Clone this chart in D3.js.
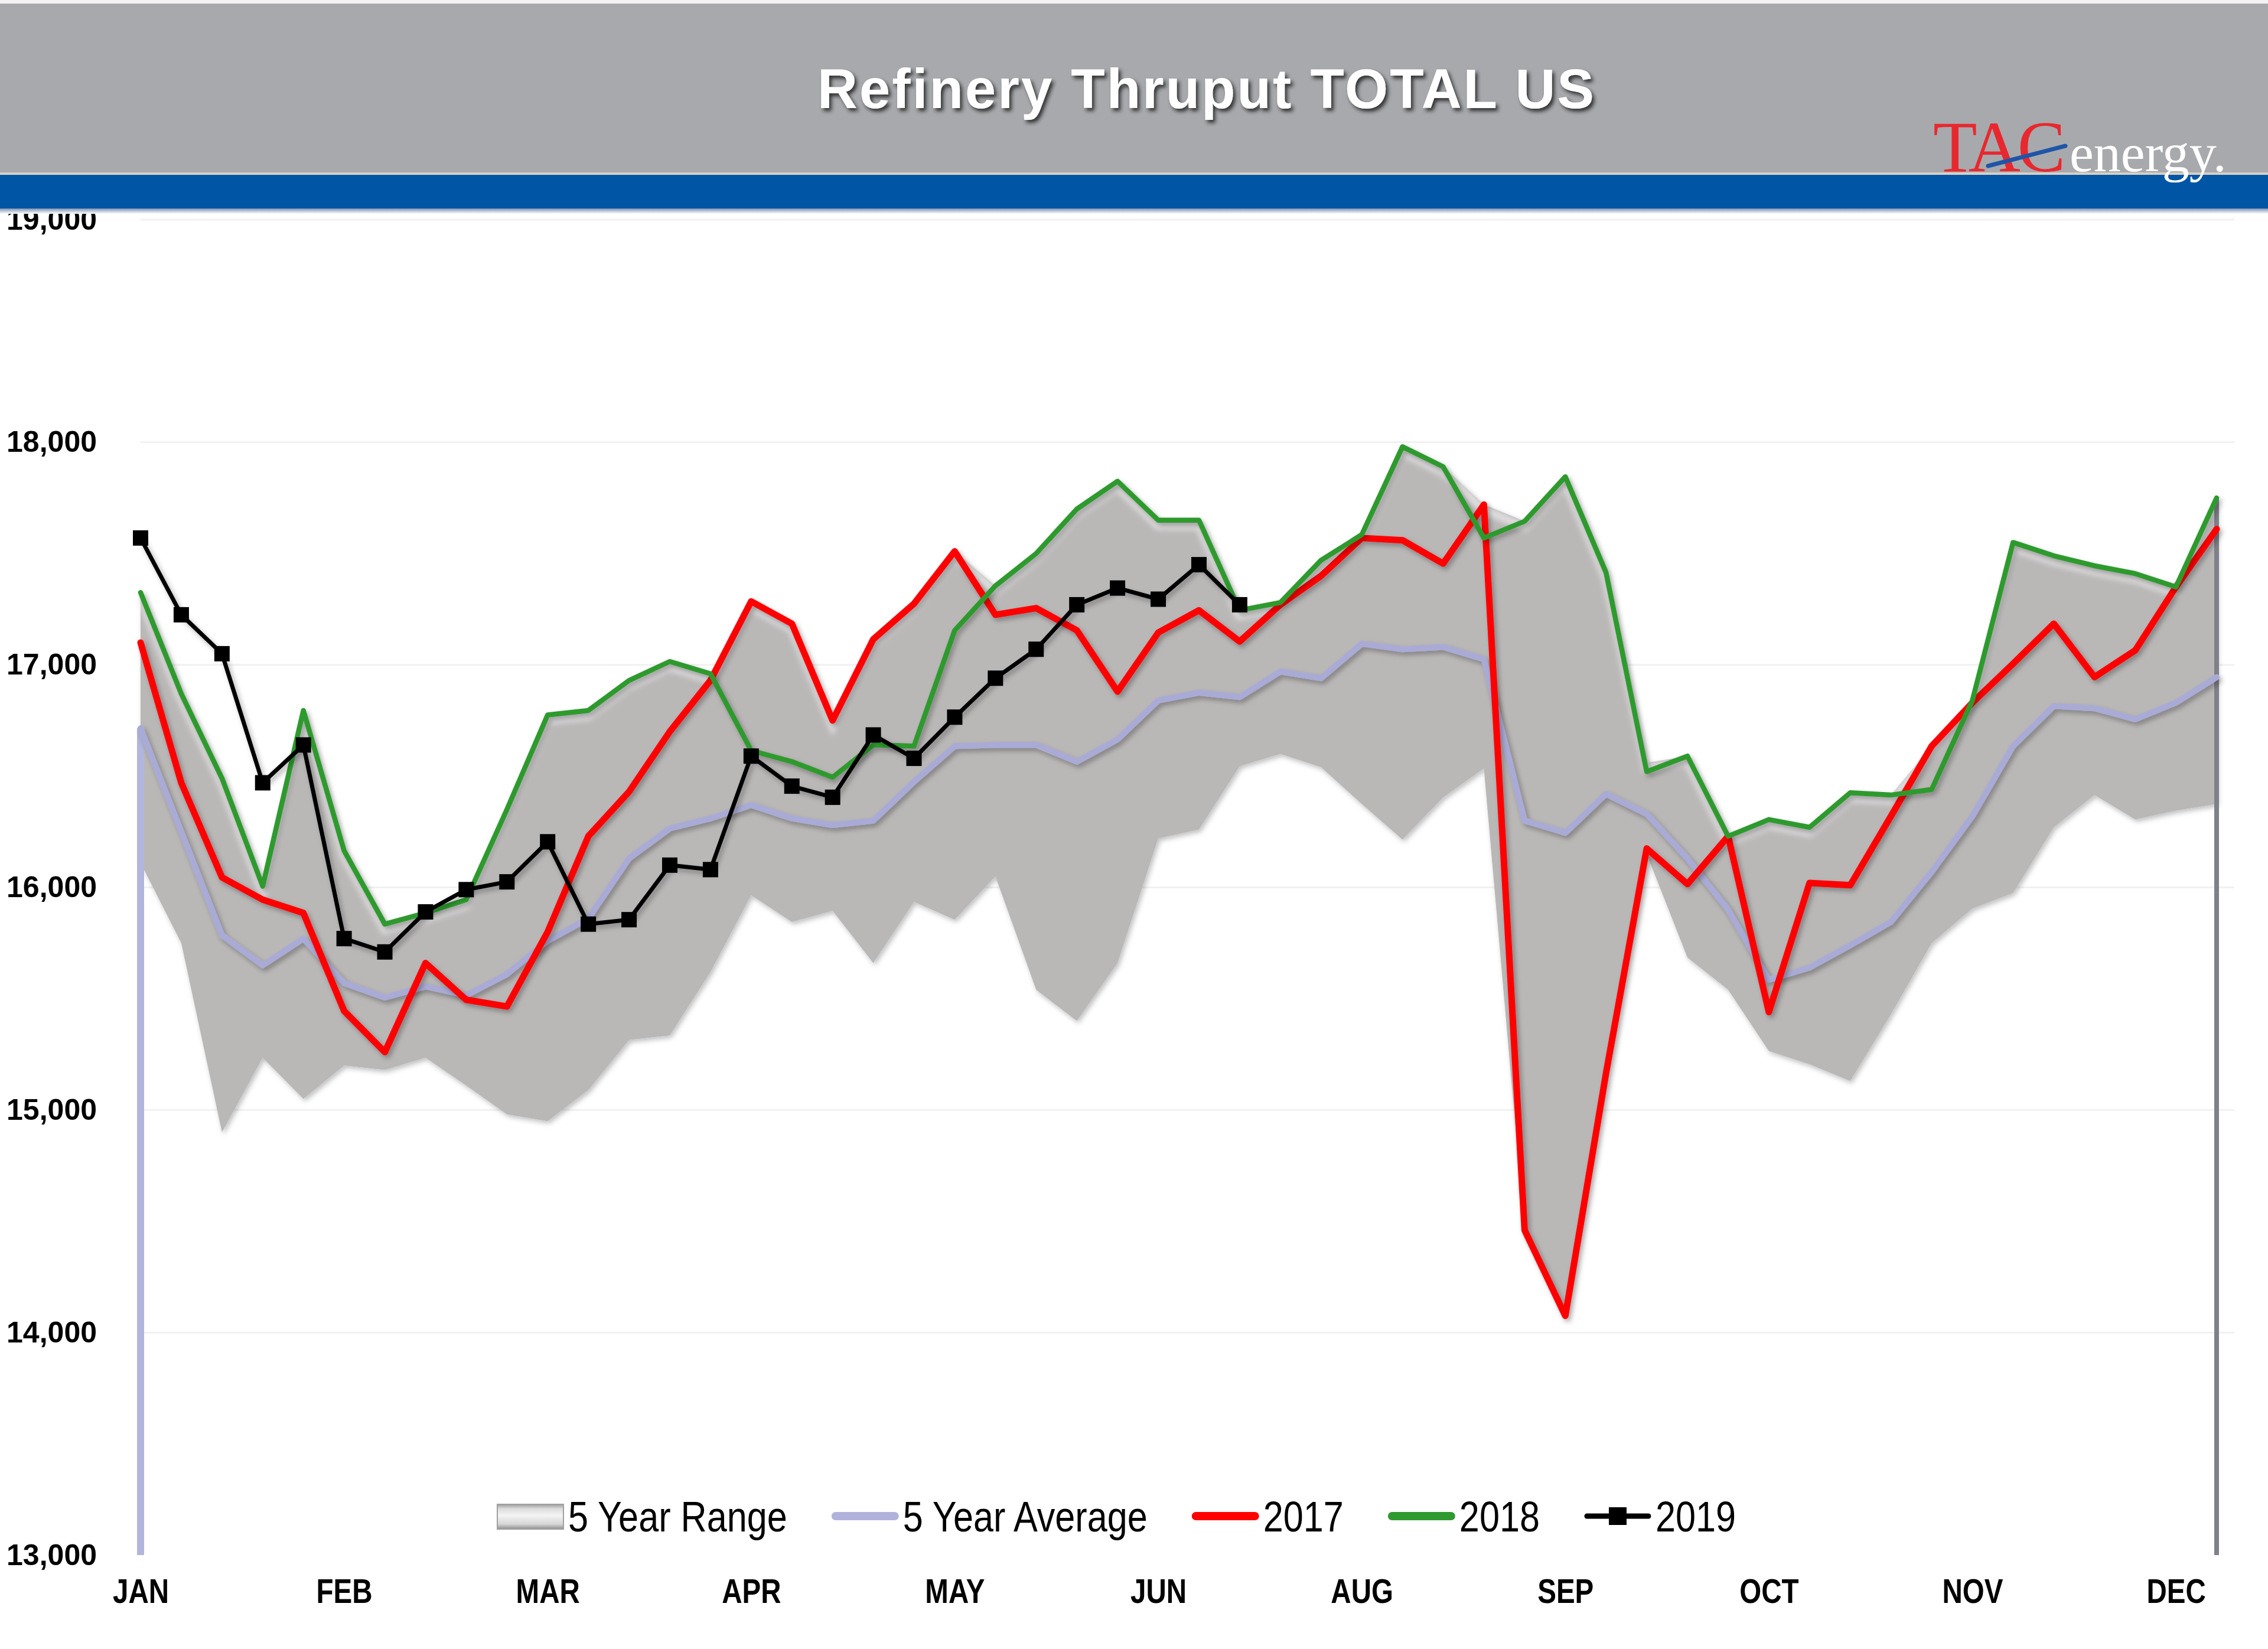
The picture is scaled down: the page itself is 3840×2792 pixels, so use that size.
<!DOCTYPE html>
<html><head><meta charset="utf-8">
<script src="https://cdn.jsdelivr.net/npm/d3@7"></script>
<style>
html,body{margin:0;padding:0;background:#fff;}
svg{display:block;}
</style></head><body>
<svg id="chart" width="3840" height="2792"></svg>
<script>
// ---------- DATA ----------
const weeks = d3.range(1, 53);
const monthLabels = ["JAN","FEB","MAR","APR","MAY","JUN","AUG","SEP","OCT","NOV","DEC"];
const monthLabelWeeks = [1,6,11,16,21,26,31,36,41,46,51];
const yTicks = [13000,14000,15000,16000,17000,18000,19000];
const seriesNames = ["5 Year Range","5 Year Average","2017","2018","2019"];

const range5Min = [16110,15750,14900,15235,15050,15200,15180,15235,15110,14980,14950,15090,15315,15335,15620,15965,15845,15895,15660,15935,15855,16050,15540,15400,15660,16220,16260,16545,16600,16540,16375,16215,16405,16535,14460,14075,15165,16150,15685,15540,15265,15205,15130,15430,15750,15905,15975,16270,16415,16305,16345,16375];
const range5Max = [17325,16870,16490,16005,16795,16165,15835,15885,15945,16350,16775,16795,16930,17015,16960,17285,17185,16750,17115,17275,17510,17355,17500,17700,17825,17650,17650,17245,17280,17470,17585,17980,17890,17720,17645,17845,17415,16560,16590,16230,16305,16270,16425,16415,16635,16840,17550,17490,17445,17410,17350,17750];
const avg5 = [16715,16250,15785,15650,15770,15570,15505,15555,15515,15610,15760,15860,16130,16265,16310,16370,16310,16280,16300,16475,16635,16640,16640,16565,16665,16840,16875,16855,16970,16940,17095,17070,17080,17025,16300,16245,16420,16330,16130,15900,15585,15640,15740,15845,16070,16320,16635,16815,16805,16755,16830,16945];
const y2017 = [17100,16470,16045,15945,15885,15445,15260,15660,15495,15465,15800,16230,16430,16700,16930,17285,17185,16750,17115,17275,17510,17225,17255,17155,16880,17145,17245,17105,17270,17400,17570,17560,17455,17720,14460,14075,15165,16175,16015,16230,15440,16020,16010,16320,16635,16830,17005,17185,16945,17065,17350,17610];
const y2018 = [17325,16870,16490,16005,16795,16165,15835,15885,15945,16350,16775,16795,16930,17015,16960,16615,16565,16495,16640,16635,17155,17355,17500,17700,17825,17650,17650,17245,17280,17470,17585,17980,17890,17570,17645,17845,17415,16520,16590,16230,16305,16270,16425,16415,16440,16840,17550,17490,17445,17410,17350,17750];
const y2019 = [17570,17225,17050,16470,16640,15770,15710,15890,15990,16025,16205,15835,15855,16100,16080,16590,16455,16405,16685,16580,16765,16940,17070,17270,17345,17295,17450,17270];

// ---------- SETUP ----------
const W = 3840, H = 2792;
const NARROW_AXIS = 0.82;
const NARROW_LEG = 0.85;
const svg = d3.select("#chart");
const x = d3.scalePoint().domain(weeks).range([238, 3753]);
const y = d3.scaleLinear().domain([13000, 19000]).range([2633, 372]);

const defs = svg.append("defs");
const f1 = defs.append("filter").attr("id","lineShadow").attr("x","-5%").attr("y","-5%").attr("width","110%").attr("height","110%");
f1.append("feDropShadow").attr("dx",4).attr("dy",5).attr("stdDeviation",4).attr("flood-color","#000").attr("flood-opacity",0.3);
const f2 = defs.append("filter").attr("id","areaShadow").attr("x","-5%").attr("y","-5%").attr("width","110%").attr("height","110%");
f2.append("feDropShadow").attr("dx",3).attr("dy",4).attr("stdDeviation",4).attr("flood-color","#000").attr("flood-opacity",0.25);
const f3 = defs.append("filter").attr("id","titleShadow").attr("x","-5%").attr("y","-20%").attr("width","110%").attr("height","150%");
f3.append("feDropShadow").attr("dx",4).attr("dy",5).attr("stdDeviation",3).attr("flood-color","#222").attr("flood-opacity",0.85);
const f4 = defs.append("filter").attr("id","blur6");
f4.append("feGaussianBlur").attr("stdDeviation",5);
const gHead = defs.append("linearGradient").attr("id","bandShadow").attr("x1",0).attr("x2",0).attr("y1",0).attr("y2",1);
gHead.append("stop").attr("offset","0%").attr("stop-color","#7d94b4");
gHead.append("stop").attr("offset","100%").attr("stop-color","#ffffff");
const gSw = defs.append("linearGradient").attr("id","swatchGrad").attr("x1",0).attr("x2",0).attr("y1",0).attr("y2",1);
[["0%","#9d9d9d"],["18%","#dcdcdc"],["45%","#f4f4f4"],["80%","#d6d6d6"],["100%","#8e8e8e"]].forEach(s=>gSw.append("stop").attr("offset",s[0]).attr("stop-color",s[1]));

// ---------- GRIDLINES ----------
svg.append("g").selectAll("line").data(yTicks.slice(1)).join("line")
  .attr("x1", x(1)).attr("x2", x(52) + 30)
  .attr("y1", d => y(d)).attr("y2", d => y(d))
  .attr("stroke", "#f1f1f1").attr("stroke-width", 3);

// ---------- 5 YEAR RANGE AREA ----------
const rangeData = weeks.map((w, i) => ({w, lo: range5Min[i], hi: range5Max[i]}));
const area = d3.area().x(d => x(d.w)).y0(d => y(d.lo)).y1(d => y(d.hi));
defs.append("clipPath").attr("id","areaClip").append("path").attr("d", area(rangeData));
svg.append("path").attr("d", area(rangeData)).attr("fill", "#bab7b7").attr("filter","url(#areaShadow)");
const topLine = d3.line().x(d => x(d.w)).y(d => y(d.hi));
svg.append("g").attr("clip-path","url(#areaClip)")
  .append("path").attr("d", topLine(rangeData)).attr("transform","translate(0,9)")
  .attr("fill","none").attr("stroke","#ffffff").attr("stroke-opacity",0.55).attr("stroke-width",14)
  .attr("filter","url(#blur6)");

// edge lines
svg.append("line").attr("x1", x(52)).attr("x2", x(52))
  .attr("y1", y(range5Max[51])).attr("y2", y(13000))
  .attr("stroke", "#80808a").attr("stroke-width", 8);
svg.append("line").attr("x1", x(1)).attr("x2", x(1))
  .attr("y1", y(avg5[0])).attr("y2", y(13000))
  .attr("stroke", "#b3b5dc").attr("stroke-width", 12);

// ---------- LINES ----------
const line = d3.line().x((d, i) => x(weeks[i])).y(d => y(d)).curve(d3.curveLinear);
function drawLine(data, color, width) {
  svg.append("path").attr("d", line(data)).attr("fill","none")
    .attr("stroke", color).attr("stroke-width", width)
    .attr("stroke-linejoin","round").attr("stroke-linecap","round")
    .attr("filter","url(#lineShadow)");
}
drawLine(avg5, "#a9abd6", 10);
drawLine(y2017, "#ff0000", 11);
drawLine(y2018, "#2f9a2f", 8.5);
drawLine(y2019, "#000000", 7);
svg.append("g").selectAll("rect").data(y2019).join("rect")
  .attr("x", (d, i) => x(weeks[i]) - 13).attr("y", d => y(d) - 13)
  .attr("width", 26).attr("height", 26).attr("fill", "#000");

// ---------- AXES ----------
svg.append("line").attr("x1", 228).attr("x2", 3785).attr("y1", 2633).attr("y2", 2633)
  .attr("stroke", "#d2d2d2").attr("stroke-width", 7).attr("filter","url(#lineShadow)");

const yAxis = svg.append("g").attr("transform", `translate(${x(1)},0)`)
  .call(d3.axisLeft(y).tickValues(yTicks).tickFormat(d3.format(",")).tickSize(0).tickPadding(74));
yAxis.select(".domain").remove();
yAxis.selectAll("text").attr("font-family","'Liberation Sans', Arial, sans-serif")
  .attr("font-weight","bold").attr("font-size",50).attr("fill","#000");

const xAxis = svg.append("g").attr("transform", `translate(0,${y(13000)})`)
  .call(d3.axisBottom(x).tickValues(monthLabelWeeks).tickFormat((d, i) => monthLabels[i]).tickSize(0).tickPadding(40));
xAxis.select(".domain").remove();
xAxis.selectAll("text").attr("font-family","'Liberation Sans', Arial, sans-serif")
  .attr("font-weight","bold").attr("font-size",58).attr("fill","#000")
  .attr("transform", `scale(${NARROW_AXIS},1)`);

// ---------- LEGEND ----------
const legend = svg.append("g").attr("transform","translate(0,2567)");
const legendStyles = [
  {type:"area"}, {type:"line", color:"#b0b2dc"}, {type:"line", color:"#ff0000"},
  {type:"line", color:"#2f9a2f"}, {type:"marker", color:"#000"}
];
let cx = 842;
seriesNames.forEach((name, i) => {
  const st = legendStyles[i];
  const g = legend.append("g");
  if (st.type === "area") {
    g.append("rect").attr("x", cx).attr("y", -20).attr("width", 112).attr("height", 42)
      .attr("fill","url(#swatchGrad)").attr("stroke","#a0a0a0").attr("stroke-width",2);
  } else if (st.type === "line") {
    g.append("line").attr("x1", cx + 6).attr("x2", cx + 106).attr("y1", 0).attr("y2", 0)
      .attr("stroke", st.color).attr("stroke-width", 14).attr("stroke-linecap","round");
  } else {
    g.append("line").attr("x1", cx + 4).attr("x2", cx + 108).attr("y1", 0).attr("y2", 0)
      .attr("stroke", st.color).attr("stroke-width", 9).attr("stroke-linecap","round");
    g.append("rect").attr("x", cx + 56 - 15).attr("y", -15).attr("width", 30).attr("height", 30).attr("fill", st.color);
  }
  const t = g.append("text").attr("x", 0).attr("y", 0).attr("dy","0.36em")
    .attr("transform", `translate(${cx + 120},0) scale(${NARROW_LEG},1)`)
    .attr("font-family", "'Liberation Sans', Arial, sans-serif").attr("font-size", 72).attr("fill","#000").text(name);
  cx += 120 + t.node().getComputedTextLength() * NARROW_LEG + 76;
});

// ---------- HEADER ----------
const head = svg.append("g");
head.append("rect").attr("x",0).attr("y",0).attr("width",W).attr("height",6).attr("fill","#f3f3f3");
head.append("rect").attr("x",0).attr("y",6).attr("width",W).attr("height",286).attr("fill","#a7a9ac");
head.append("rect").attr("x",0).attr("y",292).attr("width",W).attr("height",4).attr("fill","#d8d1c5");
head.append("rect").attr("x",0).attr("y",296).attr("width",W).attr("height",57).attr("fill","#0055a5");
head.append("rect").attr("x",0).attr("y",353).attr("width",W).attr("height",9).attr("fill","url(#bandShadow)");

head.append("text").attr("x", 2043).attr("y", 183).attr("text-anchor","middle")
  .attr("font-family","'Liberation Sans', Arial, sans-serif").attr("font-weight","bold")
  .attr("font-size", 94).attr("letter-spacing", 3).attr("fill","#ffffff")
  .attr("filter","url(#titleShadow)").text("Refinery Thruput TOTAL US");

// logo
const logo = head.append("g");
logo.append("text").attr("x", 3273).attr("y", 290)
  .attr("font-family","'Liberation Serif', 'Times New Roman', serif")
  .attr("font-size", 122).attr("letter-spacing", -5).attr("fill", "#e8282e").text("TAC");
logo.append("line").attr("x1", 3366).attr("y1", 281).attr("x2", 3497).attr("y2", 247)
  .attr("stroke", "#1f55a8").attr("stroke-width", 7).attr("stroke-linecap","round");
logo.append("text").attr("x", 3504).attr("y", 290)
  .attr("font-family","'Liberation Serif', 'Times New Roman', serif")
  .attr("font-size", 92).attr("fill", "#ffffff").text("energy.");
</script>
</body></html>
